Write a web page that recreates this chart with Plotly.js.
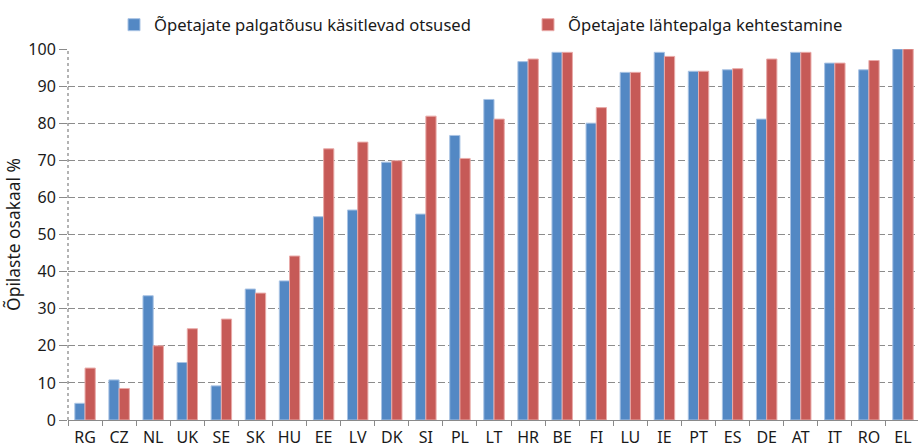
<!DOCTYPE html>
<html>
<head>
<meta charset="utf-8">
<script src="https://cdn.plot.ly/plotly-3.0.1.min.js"></script>
<style>html,body{margin:0;padding:0;background:#fff;}#chart{width:918px;height:445px;}</style>
</head>
<body>
<div id="chart"></div>
<script>
const countries = ["RG","CZ","NL","UK","SE","SK","HU","EE","LV","DK","SI","PL","LT","HR","BE","FI","LU","IE","PT","ES","DE","AT","IT","RO","EL"];
const palgatousu = [4.5,10.8,33.5,15.5,9.2,35.3,37.5,54.8,56.6,69.5,55.5,76.7,86.4,96.6,99.1,80.0,93.7,99.1,94.0,94.4,81.1,99.1,96.2,94.4,100];
const lahtepalk = [14.0,8.5,20.0,24.6,27.2,34.2,44.2,73.1,74.9,69.9,81.9,70.5,81.1,97.3,99.1,84.2,93.7,98.0,94.0,94.7,97.3,99.1,96.2,96.9,100];
const seriesNames = ["Õpetajate palgatõusu käsitlevad otsused","Õpetajate lähtepalga kehtestamine"];
const yTicks = [0,10,20,30,40,50,60,70,80,90,100];

const font = {family:"Noto Sans, sans-serif", size:16, color:"#1a1a1a"};
const legFont = {family:"Noto Sans, sans-serif", size:16.6, color:"#1a1a1a"};
const titleFont = {family:"Noto Sans, sans-serif", size:17.4, color:"#1a1a1a"};
const traces = [
  {type:"bar", name:seriesNames[0], x:countries, y:palgatousu, legend:"legend",
   marker:{color:"#5388c4", line:{color:"#a9c3e4", width:1}}},
  {type:"bar", name:seriesNames[1], x:countries, y:lahtepalk, legend:"legend2",
   marker:{color:"#c65a57", line:{color:"#e9aaa8", width:1}}}
];
const layout = {
  width:918, height:445,
  margin:{l:68, r:0, t:49, b:25},
  paper_bgcolor:"#fff", plot_bgcolor:"#fff",
  font:font,
  barmode:"group", bargap:0.4, bargroupgap:0,
  showlegend:true,
  legend:{orientation:"h", x:(114-68)/850, xanchor:"left", y:1.065, yanchor:"middle", font:legFont, bgcolor:"rgba(0,0,0,0)"},
  legend2:{orientation:"h", x:(528-68)/850, xanchor:"left", y:1.065, yanchor:"middle", font:legFont, bgcolor:"rgba(0,0,0,0)"},
  xaxis:{range:[-0.5,24.44], showgrid:false, showline:true, linecolor:"#8a8a8a", linewidth:1,
         ticks:"outside", tickson:"boundaries", ticklen:5, tickcolor:"#8a8a8a", ticklabelstandoff:3,
         tickangle:0, tickfont:font, fixedrange:true},
  yaxis:{range:[0,100], tickvals:yTicks, showgrid:true, gridcolor:"#8c8c8c", griddash:"7px,3px", gridwidth:1,
         zeroline:false, showline:false, ticks:"outside", ticklen:8, tickcolor:"#8a8a8a",
         tickfont:font, title:{text:"Õpilaste osakaal %", font:titleFont, standoff:3}},
  shapes:[{type:"line", xref:"paper", yref:"paper", x0:0, x1:0, y0:0, y1:1,
           line:{color:"#9a9a9a", width:1.5, dash:"dot"}}]
};
Plotly.newPlot("chart", traces, layout, {displayModeBar:false, staticPlot:true});
</script>
</body>
</html>
